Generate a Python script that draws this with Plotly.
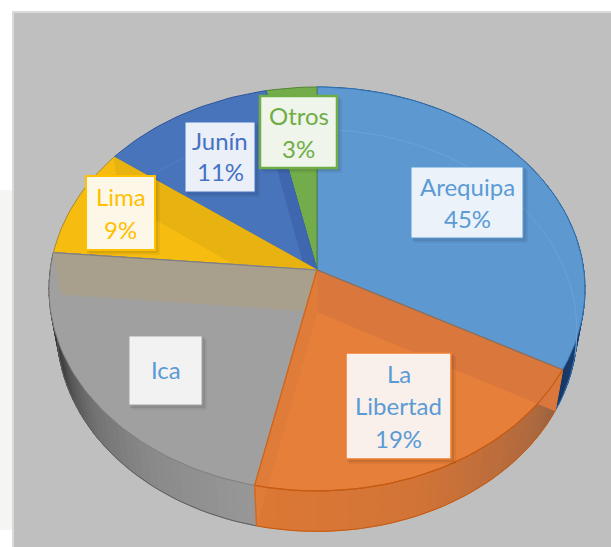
import math
import plotly.graph_objects as go

# Data
categories = ["Arequipa", "La Libertad", "Ica", "Lima", "Junín", "Otros"]
slice_share = [32.9, 20.5, 23.0, 8.75, 11.5, 3.35]
label_lines = [["Arequipa", "45%"], ["La", "Libertad", "19%"], ["Ica"], ["Lima", "9%"], ["Junín", "11%"], ["Otros", "3%"]]

# Styles
W, H = 611, 547
top_col = ["#5D98D0", "#E67F3A", "#A0A0A0", "#F7BC10", "#4874BC", "#72AC4B"]
edge_col = ["#2E75B6", "#C55A11", "#7F7F7F", "#A68A30", "#2F5597", "#548235"]
wall_col = [None, "#D9773C", "#A89F8D", "#E8B310", "#3E67B0", None]
text_col = ["#5B9BD5", "#5B9BD5", "#5B9BD5", "#FFC000", "#4472C4", "#70AD47"]
box_line = ["#5B9BD5", "#ED7D31", "#A5A5A5", "#FFC000", "#4472C4", "#70AD47"]
box_fill = ["#EBF2F9", "#F9F0EB", "#F2F2F2", "#FDF7E8", "#EBEFF8", "#EFF5EA"]
box_lw = [1, 1.5, 1, 2, 1, 2.5]
boxes = [(411, 167, 523, 238), (346, 353, 451, 459), (129, 336, 202, 405),
         (86, 176, 155, 250), (185, 122, 255, 192), (260, 96, 337, 168)]
line_y = [[186, 218], [373, 405, 438], [369], [196, 229], [140, 171], [115, 148]]

CX, CY, A, B, K = 317, 270, 266.8, 200.2, 0.094
DY, SX, SY = 41.5, 0.97, 0.995


def pt(theta, r=1.0, bottom=False):
    t = math.radians(theta)
    u, v = r * math.sin(t), r * math.cos(t)
    w = 1 + K * v
    x, y = A * u / w, -B * v / w
    if bottom:
        return CX + SX * x, CY + DY + SY * y
    return CX + x, CY + y


def arc(a, b, bottom=False, n=None):
    n = n or max(2, int(abs(b - a) / 1.5))
    return [pt(a + (b - a) * i / n, bottom=bottom) for i in range(n + 1)]


fig = go.Figure()


def poly(points, fill, line=None, width=1):
    xs = [p[0] for p in points] + [points[0][0]]
    ys = [p[1] for p in points] + [points[0][1]]
    fig.add_trace(go.Scatter(x=xs, y=ys, mode="lines", fill="toself", fillcolor=fill,
                             line=dict(color=line or fill, width=width), hoverinfo="skip", showlegend=False))


def curve(points, color, width=1):
    fig.add_trace(go.Scatter(x=[p[0] for p in points], y=[p[1] for p in points], mode="lines",
                             line=dict(color=color, width=width), hoverinfo="skip", showlegend=False))


def lerp(stops, t):
    for (a, ca), (b, cb) in zip(stops, stops[1:]):
        if a <= t <= b:
            f = (t - a) / (b - a)
            c = [round(x + (y - x) * f) for x, y in zip(ca, cb)]
            return f"rgb({c[0]},{c[1]},{c[2]})"
    c = stops[0][1] if t < stops[0][0] else stops[-1][1]
    return f"rgb({c[0]},{c[1]},{c[2]})"


def side(a, b, stops, edge):
    n = max(2, int(abs(b - a) / 2))
    for i in range(n):
        t0, t1 = a + (b - a) * i / n, a + (b - a) * (i + 1) / n
        poly([pt(t0), pt(t1), pt(t1, bottom=True), pt(t0, bottom=True)], lerp(stops, (t0 + t1) / 2))
    curve(arc(a, b, bottom=True), edge, 1)


# Slice boundaries from shares
total = sum(slice_share)
bounds = [0]
for s in slice_share:
    bounds.append(bounds[-1] + s / total * 360)


def face(i):
    a, b = bounds[i], bounds[i + 1]
    poly([(CX, CY)] + arc(a, b), top_col[i], edge_col[i], 1)


def wall(i, angle, color=None):
    # inner radial wall of slice i, seen through the translucent top
    poly([(CX, CY), pt(angle), pt(angle, bottom=True), (CX, CY + DY)], color or wall_col[i])


# Back slices
side(bounds[0], bounds[1], [(85, (30, 70, 120)), (bounds[1], (25, 55, 100))], "#2E75B6")
face(0)
curve(arc(2, bounds[1] - 16, bottom=True), "#6CA3D8", 1)
face(5)
face(4)
wall(4, bounds[5])
curve(arc(bounds[4] + 7, bounds[5] - 18, bottom=True), "#5580C6", 1)
face(3)
wall(3, bounds[4])
# Ica
side(bounds[2], bounds[3], [(bounds[2], (152, 152, 152)), (215, (138, 138, 138)), (232, (116, 116, 116)),
                             (243, (88, 88, 88)), (252, (58, 58, 58)), (bounds[3], (50, 50, 50))], "#5E5E5E")
face(2)
wall(2, bounds[3])
curve([(CX, CY), pt(bounds[3])], "#808080", 1.2)
# La Libertad
side(bounds[1], bounds[2], [(bounds[1], (148, 98, 66)), (130, (175, 105, 62)), (160, (210, 116, 55)),
                             (bounds[2], (220, 120, 52))], "#C55A11")
face(1)
wall(1, bounds[1])
wall(1, bounds[2], "#DF7C3A")
curve(arc(bounds[1], bounds[2]), "#C55A11", 1.2)
curve([(CX, CY), pt(bounds[1])], "#7F7268", 1.2)
curve([(CX, CY), pt(bounds[2]), pt(bounds[2], bottom=True)], "#D0651C", 1.2)

# Chart area, faint background mark, label boxes
shapes = [
    dict(type="rect", x0=0, x1=13, y0=190, y1=530, layer="below", line_width=0, fillcolor="#F5F6F3"),
    dict(type="rect", x0=13, x1=W + 5, y0=12, y1=H + 5, layer="below",
         line=dict(color="#DADADA", width=2), fillcolor="#BFBFBF"),
]
annotations = []
for i, (x0, y0, x1, y1) in enumerate(boxes):
    for off, op in ((5, 0.05), (3, 0.08)):
        shapes.append(dict(type="rect", x0=x0 + off - 2, x1=x1 + off, y0=y0 + off - 2, y1=y1 + off,
                           line_width=0, fillcolor="black", opacity=op))
    shapes.append(dict(type="rect", x0=x0, x1=x1, y0=y0, y1=y1, fillcolor=box_fill[i],
                       line=dict(color=box_line[i], width=box_lw[i])))
    for txt, y in zip(label_lines[i], line_y[i]):
        annotations.append(dict(x=(x0 + x1) / 2, y=y, text=txt, showarrow=False, xanchor="center", yanchor="middle",
                                font=dict(family="Lato", size=24, color=text_col[i])))

fig.update_layout(
    width=W, height=H, margin=dict(l=0, r=0, t=0, b=0), autosize=False,
    paper_bgcolor="white", plot_bgcolor="rgba(0,0,0,0)", showlegend=False,
    xaxis=dict(range=[0, W], visible=False, fixedrange=True),
    yaxis=dict(range=[H, 0], visible=False, fixedrange=True),
    shapes=shapes, annotations=annotations,
)
fig.write_html("out.html", config=dict(displayModeBar=False),
               post_script="document.body.style.margin='0';document.documentElement.style.overflow='hidden';")
